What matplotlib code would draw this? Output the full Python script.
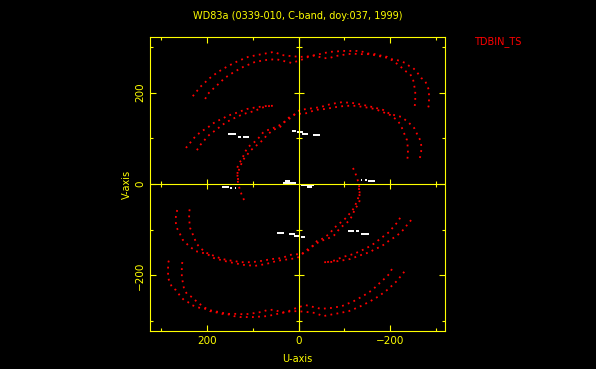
import numpy as np
import matplotlib
matplotlib.use('Agg')
import matplotlib.pyplot as plt

# UV tracks (upper half only); the conjugate points (-u, -v) are drawn too
# track 1: large upper arc, two close tracks
t1_out_u = [231, 215, 196, 176, 154, 132, 110, 91, 69, 54, 36, 19, -3, -21, -38, -54, -69, -84, -97,
            -113, -128, -141, -154, -167, -183, -194, -202, -213, -224, -233, -242, -250, -257, -268,
            -277, -281, -285, -285, -285, -285, -281]
t1_out_v = [192, 212, 230, 245, 258, 269, 278, 282, 286, 289, 282, 280, 278, 279, 282, 286, 289, 290, 291,
            291, 291, 289, 285, 284, 280, 278, 273, 272, 268, 265, 258, 254, 247, 232,
            225, 214, 206, 197, 186, 173, 160]
t1_in_u = [204, 198, 189, 180, 161, 141, 121, 95, 73, 49, 16, 1, -10, -21, -34, -56, -69, -82, -95, -106,
           -121, -132, -145, -156, -174, -194, -204, -215, -226, -235, -244, -250, -253, -255, -255, -255, -253]
t1_in_v = [186, 197, 206, 214, 232, 245, 256, 267, 271, 273, 265, 269, 273, 278, 281, 275, 276, 280, 282, 284,
           285, 284, 284, 284, 280, 276, 271, 263, 254, 246, 240, 230, 214, 202, 190, 178, 166]

# track 2: middle-left arc
t2_out_u = [246, 239, 231, 222, 211, 200, 189, 178, 167, 156, 143, 132, 113, 91, 67, 51]
t2_out_v = [79, 87, 98, 107, 116, 122, 131, 138, 142, 149, 153, 157, 164, 168, 171, 171]
t2_in_u = [222, 215, 207, 198, 189, 178, 167, 156, 145, 134, 121, 95, 80, 62]
t2_in_v = [74, 85, 94, 105, 112, 120, 129, 136, 142, 147, 153, 160, 167, 171]

# track 3: loop through the middle
t3_out_u = [119, 124, 128, 132, 134, 132, 128, 121, 113, 104, 91, 78, 69, 56, 40, 30, 14, -3, -25, -47,
            -71, -95, -119, -141, -163, -185, -200, -224, -239, -253, -261, -266, -268, -268, -266, -263]
t3_out_v = [-35, -24, -13, 2, 15, 26, 37, 53, 63, 74, 85, 96, 107, 118, 125, 136, 147, 162, 165, 168,
            175, 179, 177, 173, 168, 162, 153, 147, 136, 122, 105, 96, 85, 72, 61, 48]
t3_in_u = [132, 134, 130, 124, 117, 110, 91, 78, 67, 56, 36, 23, 8, -8, -19, -36, -58, -80, -102, -124,
           -145, -167, -185, -200, -215, -222, -228, -233, -237, -239, -239, -237]
t3_in_v = [9, 35, 46, 53, 70, 81, 96, 112, 118, 122, 131, 144, 153, 154, 155, 162, 164, 168, 171, 171,
           168, 164, 157, 151, 140, 131, 118, 105, 96, 77, 63, 50]

# short baselines (white dashes): start u, end u, v
white_u0 = [154, 133, 129, 122, 14, 3, -8, -27, -32, 33, 30, 167, 150, 139, 130]
white_u1 = [137, 131, 126, 109, 5, -10, -21, -28, -47, 6, 19, 152, 146, 137, 129]
white_v = [109, 103, 103, 103, 116, 114, 110, 107, 108, 3, 7, -6, -9, -9, -9]

major_ticks = [-200, 0, 200]
minor_ticks = [-300, -100, 100, 300]

title = 'WD83a (0339-010, C-band, doy:037, 1999)'

plt.rcParams['font.family'] = ['DejaVu Sans']
fig = plt.figure(figsize=(5.96, 3.69), dpi=100, facecolor='black')
ax = fig.add_axes([150/596, 38/369, 295/596, 294/369])
ax.set_facecolor('black')

tracks = [(t1_out_u, t1_out_v), (t1_in_u, t1_in_v),
          (t2_out_u, t2_out_v), (t2_in_u, t2_in_v),
          (t3_out_u, t3_out_v), (t3_in_u, t3_in_v)]
for u, v in tracks:
    u = np.array(u)
    v = np.array(v)
    for sign in (1, -1):
        ax.plot(sign * u, sign * v, color='red', lw=1.3, ls=(0, (1, 2.4)))

wu0 = np.array(white_u0)
wu1 = np.array(white_u1)
wv = np.array(white_v)
ax.hlines(wv, wu0, wu1, color='white', lw=1.4)
ax.hlines(-wv, -wu0, -wu1, color='white', lw=1.4)

# zero axes with crossing ticks
ax.axhline(0, color='yellow', lw=0.8)
ax.axvline(0, color='yellow', lw=0.8)
big = [t for t in major_ticks if t != 0]
ax.plot(big, [0] * len(big), ls='none', marker='|', ms=7, mew=0.8, color='yellow')
ax.plot(minor_ticks, [0] * len(minor_ticks), ls='none', marker='|', ms=4.3, mew=0.8, color='yellow')
ax.plot([0] * len(big), big, ls='none', marker='_', ms=7, mew=0.8, color='yellow')
ax.plot([0] * len(minor_ticks), minor_ticks, ls='none', marker='_', ms=4.3, mew=0.8, color='yellow')

ax.set_xlim(324.5, -320)
ax.set_ylim(-321.5, 321.5)
ax.set_xticks(major_ticks)
ax.set_xticks(minor_ticks, minor=True)
ax.set_yticks(major_ticks)
ax.set_yticks(minor_ticks, minor=True)
for s in ax.spines.values():
    s.set_color('yellow')
    s.set_linewidth(0.8)
ax.tick_params(which='both', direction='in', top=True, right=True, color='yellow',
               labelcolor='yellow', labelsize=7.5, width=0.8)
ax.tick_params(which='major', length=4, pad=3.5)
ax.tick_params(which='minor', length=2.2)
ax.tick_params(axis='y', labelrotation=90)
for lbl in ax.get_yticklabels():
    lbl.set_va('center')

ax.set_xlabel('U-axis', color='yellow', fontsize=7, labelpad=6)
ax.set_ylabel('V-axis', color='yellow', fontsize=7, labelpad=2)

fig.text(0.5, 1 - 16.3/369, title, color='yellow', fontsize=7, ha='center', va='center')
fig.text(474/596, 1 - 41.7/369, 'TDBIN_TS', color='red', fontsize=7, ha='left', va='center')

fig.savefig('out.png', dpi=100, facecolor='black')
